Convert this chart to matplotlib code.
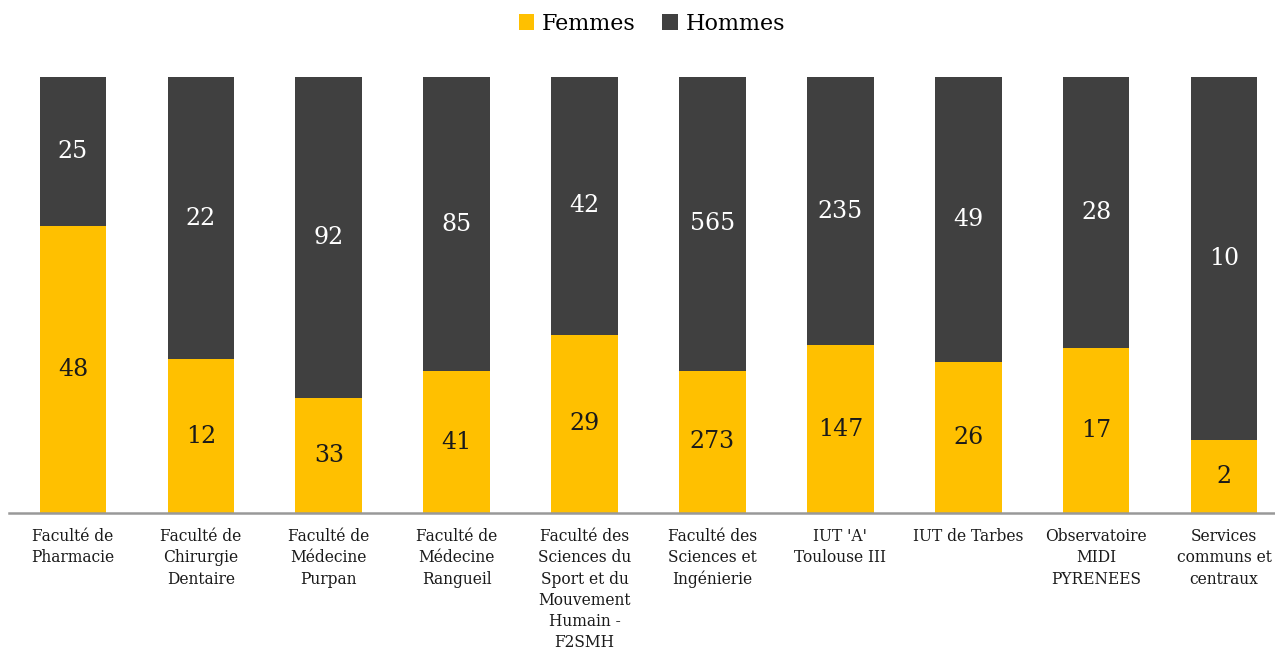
import matplotlib
matplotlib.use("Agg")
import matplotlib.pyplot as plt
import numpy as np

categories = ["Faculté de\nPharmacie", "Faculté de\nChirurgie\nDentaire", "Faculté de\nMédecine\nPurpan",
              "Faculté de\nMédecine\nRangueil", "Faculté des\nSciences du\nSport et du\nMouvement\nHumain -\nF2SMH",
              "Faculté des\nSciences et\nIngénierie", "IUT 'A'\nToulouse III", "IUT de Tarbes",
              "Observatoire\nMIDI\nPYRENEES", "Services\ncommuns et\ncentraux"]
femmes = [48, 12, 33, 41, 29, 273, 147, 26, 17, 2]
hommes = [25, 22, 92, 85, 42, 565, 235, 49, 28, 10]

plt.rcParams['font.family'] = ['DejaVu Serif']

fig = plt.figure(figsize=(12.75, 6.52), dpi=100)
ax = fig.add_axes([9/1275, 1-513/652, 1279/1275, 436/652])

f = np.array(femmes, float)
h = np.array(hommes, float)
tot = f + h
fp = f / tot
hp = h / tot
x = np.arange(len(categories))
w = 0.52
b1 = ax.bar(x, fp, w, color="#FFC000", label="Femmes")
b2 = ax.bar(x, hp, w, bottom=fp, color="#404040", label="Hommes")
for i in range(len(x)):
    ax.text(x[i], fp[i]/2, str(femmes[i]), ha="center", va="center", fontsize=17, color="#1a1a1a")
    ax.text(x[i], fp[i] + hp[i]/2, str(hommes[i]), ha="center", va="center", fontsize=17, color="white")

ax.set_xlim(-0.5, len(x)-0.5)
ax.set_ylim(0, 1)
ax.set_yticks([])
ax.set_xticks(x)
ax.set_xticklabels(categories, fontsize=11.2, linespacing=1.32, color="#1a1a1a", va="top")
ax.tick_params(axis="x", length=0, pad=11)
for s in ["top", "right", "left"]:
    ax.spines[s].set_visible(False)
ax.spines["bottom"].set_color("#999999")
ax.spines["bottom"].set_linewidth(1.8)

leg = fig.legend(handles=[b1, b2], loc="center", bbox_to_anchor=(652/1275, 1-24/652), ncol=2, frameon=False,
                 fontsize=16, handlelength=0.7, handleheight=0.7, handletextpad=0.35, columnspacing=1.2)

fig.savefig("out.png", dpi=100)
